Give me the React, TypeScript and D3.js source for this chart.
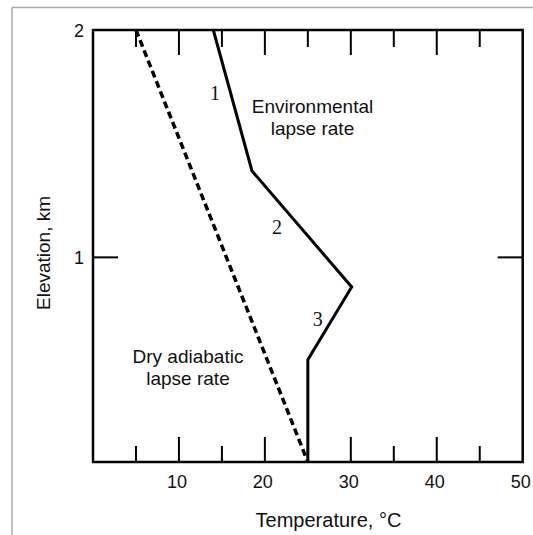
import React from "react";
import * as d3 from "d3";

const envTemps = [14, 18.5, 30.1, 25, 25];
const envElev = [2, 1.38, 0.87, 0.55, 0.1];
const dryTemps = [5, 25];
const dryElev = [2, 0.1];
const xMajor = [10, 20, 30, 40, 50];
const xMinor = [5, 15, 25, 35, 45];
const yTicks = [1, 2];
const segLabels = [
  { t: "1", x: 14.2, y: 1.692 },
  { t: "2", x: 21.4, y: 1.103 },
  { t: "3", x: 26.15, y: 0.698 },
];

const W = 533, H = 535;
const L = 93, R = 522.7, T = 30, B = 462;

export default function App() {
  const x = d3.scaleLinear().domain([0, 50]).range([L, R]);
  const y = d3.scaleLinear().domain([0.1, 2]).range([B, T]);
  const line = d3.line<[number, number]>().x(d => x(d[0])).y(d => y(d[1]));
  const env = line(envTemps.map((t, i) => [t, envElev[i]]));
  const dry = line(dryTemps.map((t, i) => [t, dryElev[i]]));
  const sans = "'Liberation Sans', Arial, sans-serif";
  const serif = "'Liberation Serif', 'Times New Roman', serif";
  return (
    <svg width={W} height={H} style={{ position: "absolute", left: 0, top: 0, background: "#fff" }}>
      <line x1={12} y1={7.5} x2={W} y2={7.5} stroke="#a8a8a8" strokeWidth={1.5} />
      <line x1={12} y1={7.5} x2={12} y2={H} stroke="#a8a8a8" strokeWidth={1.5} />
      <rect x={L} y={T} width={R - L} height={B - T} fill="none" stroke="#000" strokeWidth={2.5} />
      {xMajor.filter(v => v < 50).map(v => (
        <g key={"M" + v}>
          <line x1={x(v)} x2={x(v)} y1={B} y2={B - 25} stroke="#000" strokeWidth={2} />
          <line x1={x(v)} x2={x(v)} y1={T} y2={T + 25} stroke="#000" strokeWidth={2} />
        </g>
      ))}
      {xMinor.map(v => (
        <g key={"m" + v}>
          <line x1={x(v)} x2={x(v)} y1={B} y2={B - 16} stroke="#000" strokeWidth={2} />
          <line x1={x(v)} x2={x(v)} y1={T} y2={T + 17} stroke="#000" strokeWidth={2} />
        </g>
      ))}
      {yTicks.filter(v => v < 2).map(v => (
        <g key={"y" + v}>
          <line x1={L} x2={L + 25} y1={y(v)} y2={y(v)} stroke="#000" strokeWidth={2} />
          <line x1={R} x2={R - 25} y1={y(v)} y2={y(v)} stroke="#000" strokeWidth={2} />
        </g>
      ))}
      {xMajor.map(v => (
        <text key={"xl" + v} x={x(v) - 2} y={488} textAnchor="middle" fontFamily={sans} fontSize={18} fill="#111">{v}</text>
      ))}
      {yTicks.map(v => (
        <text key={"yl" + v} x={84} y={y(v) + 6.5} textAnchor="end" fontFamily={sans} fontSize={18} fill="#111">{v}</text>
      ))}
      <path d={dry || ""} fill="none" stroke="#000" strokeWidth={3.5} strokeDasharray="7,4" />
      <path d={env || ""} fill="none" stroke="#000" strokeWidth={3} strokeLinejoin="miter" />
      {segLabels.map(s => (
        <text key={s.t} x={x(s.x)} y={y(s.y)} textAnchor="middle" fontFamily={serif} fontSize={20} fill="#111">{s.t}</text>
      ))}
      <text x={312.5} y={113} textAnchor="middle" fontFamily={sans} fontSize={19} fill="#111">Environmental</text>
      <text x={312.5} y={135} textAnchor="middle" fontFamily={sans} fontSize={19} fill="#111">lapse rate</text>
      <text x={188} y={363} textAnchor="middle" fontFamily={sans} fontSize={19} fill="#111">Dry adiabatic</text>
      <text x={188} y={385} textAnchor="middle" fontFamily={sans} fontSize={19} fill="#111">lapse rate</text>
      <text x={328.5} y={527} textAnchor="middle" fontFamily={sans} fontSize={20} fill="#111">Temperature, °C</text>
      <text transform="translate(50,253) rotate(-90)" textAnchor="middle" fontFamily={sans} fontSize={19} fill="#111">Elevation, km</text>
    </svg>
  );
}
